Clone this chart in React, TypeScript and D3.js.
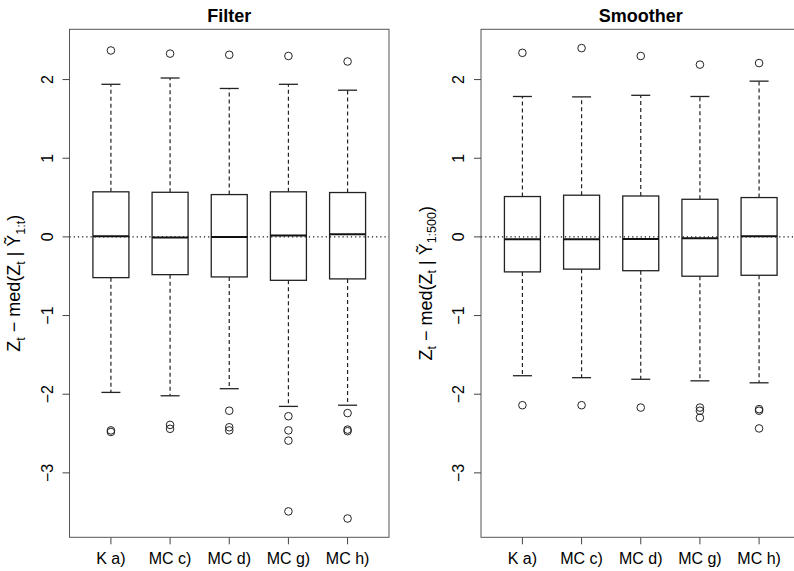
import React from "react";
import * as d3 from "d3";

const categories = ["K a)", "MC c)", "MC d)", "MC g)", "MC h)"];

// Filter panel
const filterLowW = [-1.977, -2.02, -1.93, -2.155, -2.14];
const filterQ1 = [-0.518, -0.48, -0.509, -0.552, -0.534];
const filterMed = [0.008, -0.009, 0.0, 0.017, 0.034];
const filterQ3 = [0.573, 0.567, 0.538, 0.573, 0.564];
const filterHighW = [1.94, 2.02, 1.887, 1.94, 1.865];
const filterOut = [
  [2.37, -2.46, -2.48],
  [2.33, -2.39, -2.44],
  [2.315, -2.21, -2.42, -2.46],
  [2.3, -2.28, -2.46, -2.59, -3.49],
  [2.23, -2.24, -2.45, -2.47, -3.58],
];

// Smoother panel
const smoothLowW = [-1.765, -1.79, -1.81, -1.83, -1.855];
const smoothQ1 = [-0.445, -0.41, -0.43, -0.5, -0.488];
const smoothMed = [-0.03, -0.03, -0.026, -0.018, 0.008];
const smoothQ3 = [0.513, 0.53, 0.52, 0.478, 0.5];
const smoothHighW = [1.785, 1.78, 1.8, 1.785, 1.98];
const smoothOut = [
  [2.34, -2.14],
  [2.4, -2.14],
  [2.3, -2.17],
  [2.19, -2.17, -2.21, -2.3],
  [2.21, -2.19, -2.21, -2.435],
];

const yTicks = [-3, -2, -1, 0, 1, 2];

const allVals = [
  ...filterLowW, ...filterHighW, ...filterOut.flat(),
  ...smoothLowW, ...smoothHighW, ...smoothOut.flat(),
];
const [vmin, vmax] = d3.extent(allVals) as [number, number];
const ext = (vmax - vmin) * 0.04;

const TOP = 29.3;
const BOTTOM = 537.3;
const PW = 319.5;

const y = d3.scaleLinear().domain([vmin - ext, vmax + ext]).range([BOTTOM, TOP]);

type PanelProps = {
  left: number;
  title: string;
  sub: string;
  lowW: number[];
  q1: number[];
  med: number[];
  q3: number[];
  highW: number[];
  out: number[][];
};

function Panel({ left, title, sub, lowW, q1, med, q3, highW, out }: PanelProps) {
  const x = d3.scaleLinear().domain([0.3, 5.7]).range([left, left + PW]);
  const bw = 36;
  const cw = 19;
  const font = "Liberation Sans, Arial, Helvetica, sans-serif";
  const subSize = 12.5;
  return (
    <g fontFamily={font}>
      <text x={left + PW / 2} y={21.5} textAnchor="middle" fontSize={18} fontWeight="bold">
        {title}
      </text>
      {categories.map((c, i) => {
        const cx = x(i + 1);
        return (
          <g key={c}>
            <line x1={cx} x2={cx} y1={y(q3[i])} y2={y(highW[i])} stroke="#222" strokeWidth={1.2} strokeDasharray="4,3" />
            <line x1={cx} x2={cx} y1={y(q1[i])} y2={y(lowW[i])} stroke="#222" strokeWidth={1.2} strokeDasharray="4,3" />
            <line x1={cx - cw / 2} x2={cx + cw / 2} y1={y(highW[i])} y2={y(highW[i])} stroke="#222" strokeWidth={1.3} />
            <line x1={cx - cw / 2} x2={cx + cw / 2} y1={y(lowW[i])} y2={y(lowW[i])} stroke="#222" strokeWidth={1.3} />
            <rect x={cx - bw / 2} y={y(q3[i])} width={bw} height={y(q1[i]) - y(q3[i])} fill="white" stroke="#222" strokeWidth={1.3} />
            <line x1={cx - bw / 2} x2={cx + bw / 2} y1={y(med[i])} y2={y(med[i])} stroke="#111" strokeWidth={2} />
            {out[i].map((v, j) => (
              <circle key={j} cx={cx} cy={y(v)} r={3.8} fill="none" stroke="#222" strokeWidth={1} />
            ))}
            <line x1={cx} x2={cx} y1={BOTTOM} y2={BOTTOM + 7} stroke="#444" strokeWidth={1} />
            <text x={cx} y={563.5} textAnchor="middle" fontSize={16}>
              {c}
            </text>
          </g>
        );
      })}
      <line x1={left} x2={left + PW} y1={y(0)} y2={y(0)} stroke="#111" strokeWidth={1.2} strokeDasharray="1.2,3" />
      <rect x={left} y={TOP} width={PW} height={BOTTOM - TOP} fill="none" stroke="#555" strokeWidth={1} />
      {yTicks.map((t) => (
        <g key={t}>
          <line x1={left - 7} x2={left} y1={y(t)} y2={y(t)} stroke="#444" strokeWidth={1} />
          <text transform={`translate(${left - 17},${y(t)}) rotate(-90)`} textAnchor="middle" fontSize={16}>
            {t < 0 ? "\u2212" + Math.abs(t) : String(t)}
          </text>
        </g>
      ))}
      <text transform={`translate(${left - 49.5},${(TOP + BOTTOM) / 2}) rotate(-90)`} textAnchor="middle" fontSize={18}>
        <tspan>Z</tspan>
        <tspan fontSize={subSize} dy={4.5}>t</tspan>
        <tspan dy={-4.5}>{" \u2212 med(Z"}</tspan>
        <tspan fontSize={subSize} dy={4.5}>t</tspan>
        <tspan dy={-4.5}>{" | \u1EF8"}</tspan>
        <tspan fontSize={subSize} dy={4.5}>{sub}</tspan>
        <tspan dy={-4.5}>)</tspan>
      </text>
    </g>
  );
}

export default function App() {
  return (
    <svg width={794} height={571} style={{ position: "absolute", left: 0, top: 0, background: "white" }}>
      <rect width={794} height={571} fill="white" />
      <Panel left={69.5} title="Filter" sub="1:t" lowW={filterLowW} q1={filterQ1} med={filterMed} q3={filterQ3} highW={filterHighW} out={filterOut} />
      <Panel left={481} title="Smoother" sub="1:500" lowW={smoothLowW} q1={smoothQ1} med={smoothMed} q3={smoothQ3} highW={smoothHighW} out={smoothOut} />
    </svg>
  );
}
